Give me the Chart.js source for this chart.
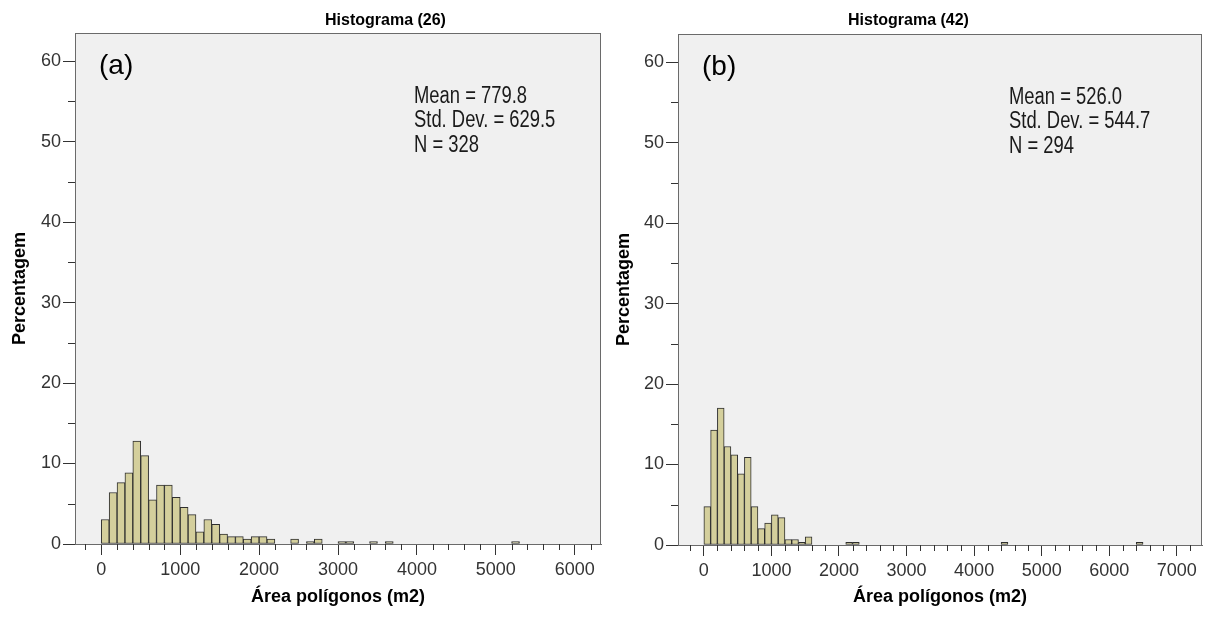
<!DOCTYPE html>
<html>
<head>
<meta charset="utf-8">
<script src="https://cdn.jsdelivr.net/npm/chart.js@4/dist/chart.umd.min.js"></script>
<style>
  html, body { margin: 0; padding: 0; background: #fff; }
  body { width: 1207px; height: 618px; position: relative; overflow: hidden; }
  canvas { position: absolute; top: 0; }
  #histA { left: 0; }
  #histB { left: 604px; }
</style>
</head>
<body>
<canvas id="histA" width="603" height="618"></canvas>
<canvas id="histB" width="603" height="618"></canvas>
<script>
// bin width in m2 (SPSS histogram)
const BIN_WIDTH = 100;

// Histograma (26)
const binStartsA = [0, 100, 200, 300, 400, 500, 600, 700, 800, 900, 1000, 1100, 1200, 1300, 1400,
  1500, 1600, 1700, 1800, 1900, 2000, 2100, 2400, 2600, 2700, 3000, 3100, 3400, 3600, 5200];
const percentA = [3.05, 6.40, 7.62, 8.84, 12.80, 10.98, 5.49, 7.32, 7.32, 5.79, 4.57, 3.66, 1.52, 3.05, 2.44,
  1.22, 0.91, 0.91, 0.61, 0.91, 0.91, 0.61, 0.61, 0.30, 0.61, 0.30, 0.30, 0.30, 0.30, 0.30];
const statsA = ['Mean = 779.8', 'Std. Dev. = 629.5', 'N = 328'];
const xTicksA = [0, 1000, 2000, 3000, 4000, 5000, 6000];

// Histograma (42)
const binStartsB = [0, 100, 200, 300, 400, 500, 600, 700, 800, 900, 1000, 1100, 1200, 1300, 1400,
  1500, 2100, 2200, 4400, 6400];
const percentB = [4.76, 14.29, 17.01, 12.24, 11.22, 8.84, 10.88, 4.76, 2.04, 2.72, 3.74, 3.40, 0.68, 0.68, 0.34,
  1.02, 0.34, 0.34, 0.34, 0.34];
const statsB = ['Mean = 526.0', 'Std. Dev. = 544.7', 'N = 294'];
const xTicksB = [0, 1000, 2000, 3000, 4000, 5000, 6000, 7000];

const yTicks = [0, 10, 20, 30, 40, 50, 60];
const yMinorStep = 5;
const xMinorStep = 200;

const FONT = '"Liberation Sans", Arial, sans-serif';

const panelPlugin = {
  id: 'panel',
  beforeDraw(chart) {
    const a = chart.chartArea;
    const ctx = chart.ctx;
    ctx.save();
    ctx.fillStyle = '#f0f0f0';
    ctx.fillRect(a.left, a.top, a.right - a.left, a.bottom - a.top);
    ctx.restore();
  },
  afterDraw(chart, args, opts) {
    const a = chart.chartArea;
    const ctx = chart.ctx;
    const xs = chart.scales.x;
    const ys = chart.scales.y;
    ctx.save();
    // box
    ctx.strokeStyle = '#6a6a6a';
    ctx.lineWidth = 1;
    ctx.strokeRect(Math.round(a.left) + 0.5, Math.round(a.top) + 0.5,
      Math.round(a.right - a.left) - 1, Math.round(a.bottom - a.top));

    // minor ticks (between the labelled ones)
    ctx.strokeStyle = '#333';
    ctx.beginPath();
    for (let v = Math.ceil(xs.min / xMinorStep) * xMinorStep; v <= xs.max; v += xMinorStep) {
      if (opts.xMajor.includes(v)) continue;
      const px = Math.round(xs.getPixelForValue(v)) + 0.5;
      ctx.moveTo(px, a.bottom);
      ctx.lineTo(px, a.bottom + 6);
    }
    for (let v = yMinorStep; v <= ys.max; v += yMinorStep) {
      if (yTicks.includes(v)) continue;
      const py = Math.round(ys.getPixelForValue(v)) + 0.5;
      ctx.moveTo(a.left - 7, py);
      ctx.lineTo(a.left, py);
    }
    ctx.stroke();

    // title
    ctx.fillStyle = '#000';
    ctx.textBaseline = 'alphabetic';
    ctx.textAlign = 'left';
    ctx.font = 'bold 16px ' + FONT;
    ctx.fillText(opts.title, opts.titleX, 25);

    // panel letter
    ctx.font = '28px ' + FONT;
    ctx.fillText(opts.letter, a.left + 24, a.top + 41);

    // stats text, condensed like Arial Narrow
    ctx.fillStyle = '#1a1a1a';
    ctx.font = '23px ' + FONT;
    opts.stats.forEach((line, i) => {
      ctx.save();
      ctx.translate(a.left + opts.statsDx, a.top + 69.5 + i * 24.5);
      ctx.scale(0.8, 1);
      ctx.fillText(line, 0, 0);
      ctx.restore();
    });
    ctx.restore();
  }
};

function makePanel(canvasId, binStarts, percents, xTicks, cfg) {
  const points = binStarts.map((s, i) => ({ x: s + BIN_WIDTH / 2, y: percents[i] }));
  const plotBottom = cfg.plotBottom;
  return new Chart(document.getElementById(canvasId), {
    type: 'bar',
    data: {
      datasets: [{
        data: points,
        backgroundColor: '#d4cf9c',
        borderColor: '#2e2e2e',
        borderWidth: 1,
        barPercentage: 1.0,
        categoryPercentage: 1.0,
        borderSkipped: false
      }]
    },
    options: {
      responsive: false,
      devicePixelRatio: 1,
      animation: false,
      layout: { padding: { left: 0, top: cfg.plotTop, right: cfg.padRight, bottom: 0 } },
      plugins: {
        legend: { display: false },
        tooltip: { enabled: false },
        panel: { title: cfg.title, titleX: cfg.titleX, letter: cfg.letter, stats: cfg.stats,
          statsDx: cfg.statsDx, xMajor: xTicks }
      },
      scales: {
        x: {
          type: 'linear',
          min: cfg.xMin,
          max: cfg.xMax,
          offset: false,
          afterBuildTicks: (s) => { s.ticks = xTicks.map(v => ({ value: v })); },
          afterFit: (s) => { s.height = 618 - plotBottom; },
          border: { display: true, color: '#6a6a6a' },
          grid: { offset: false, drawOnChartArea: false, drawTicks: true, tickLength: 11, tickColor: '#333' },
          ticks: {
            autoSkip: false,
            maxRotation: 0,
            padding: 4,
            color: '#333',
            font: { family: FONT, size: 18 },
            callback: (v) => String(v)
          },
          title: {
            display: true,
            text: 'Área polígonos (m2)',
            color: '#000',
            font: { family: FONT, size: 18, weight: 'bold' },
            padding: { top: 0, bottom: 10 }
          }
        },
        y: {
          type: 'linear',
          min: 0,
          max: 63.5,
          afterBuildTicks: (s) => { s.ticks = yTicks.map(v => ({ value: v })); },
          afterFit: (s) => { s.width = cfg.plotLeft; },
          border: { display: true, color: '#6a6a6a' },
          grid: { drawOnChartArea: false, drawTicks: true, tickLength: 12, tickColor: '#333' },
          ticks: {
            padding: 2,
            color: '#333',
            font: { family: FONT, size: 18 },
            callback: (v) => String(v)
          },
          title: {
            display: true,
            text: 'Percentagem',
            color: '#000',
            font: { family: FONT, size: 18, weight: 'bold' },
            padding: { top: 9, bottom: 0 }
          }
        }
      }
    },
    plugins: [panelPlugin]
  });
}

makePanel('histA', binStartsA, percentA, xTicksA, {
  title: 'Histograma (26)', titleX: 325, letter: '(a)', stats: statsA, statsDx: 339,
  xMin: -333, xMax: 6333, plotLeft: 75, plotTop: 33, plotBottom: 544, padRight: 2
});

makePanel('histB', binStartsB, percentB, xTicksB, {
  title: 'Histograma (42)', titleX: 244, letter: '(b)', stats: statsB, statsDx: 331,
  xMin: -383, xMax: 7373, plotLeft: 74, plotTop: 34, plotBottom: 545, padRight: 5
});
</script>
</body>
</html>
